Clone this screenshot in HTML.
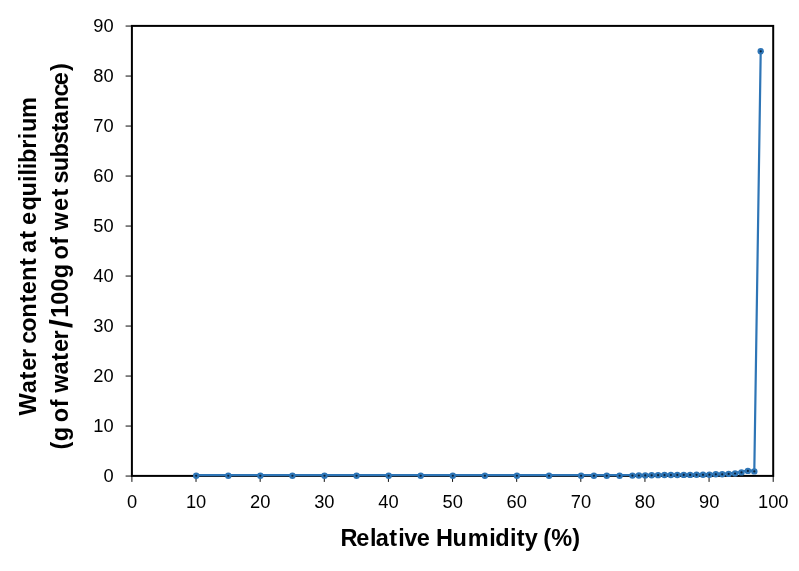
<!DOCTYPE html>
<html><head><meta charset="utf-8"><title>Water content at equilibrium</title>
<style>
html,body{margin:0;padding:0;background:#fff;}
body{width:799px;height:571px;overflow:hidden;}
svg{display:block;}
text{font-family:"Liberation Sans",sans-serif;fill:#000;}
.tk{font-size:18.3px;}
.tt{font-size:23.5px;font-weight:bold;}
</style></head><body>
<svg width="799" height="571" viewBox="0 0 799 571">
<rect width="799" height="571" fill="#fff"/>
<rect x="131.9" y="25.9" width="641.30" height="450.00" fill="none" stroke="#000" stroke-width="2"/>
<line x1="125.6" x2="131.9" y1="476.05" y2="476.05" stroke="#000" stroke-width="0.95"/>
<text class="tk" x="113.7" y="482.40" text-anchor="end">0</text>
<line x1="125.6" x2="131.9" y1="426.05" y2="426.05" stroke="#000" stroke-width="0.95"/>
<text class="tk" x="113.7" y="432.40" text-anchor="end">10</text>
<line x1="125.6" x2="131.9" y1="376.05" y2="376.05" stroke="#000" stroke-width="0.95"/>
<text class="tk" x="113.7" y="382.40" text-anchor="end">20</text>
<line x1="125.6" x2="131.9" y1="326.05" y2="326.05" stroke="#000" stroke-width="0.95"/>
<text class="tk" x="113.7" y="332.40" text-anchor="end">30</text>
<line x1="125.6" x2="131.9" y1="276.05" y2="276.05" stroke="#000" stroke-width="0.95"/>
<text class="tk" x="113.7" y="282.40" text-anchor="end">40</text>
<line x1="125.6" x2="131.9" y1="226.05" y2="226.05" stroke="#000" stroke-width="0.95"/>
<text class="tk" x="113.7" y="232.40" text-anchor="end">50</text>
<line x1="125.6" x2="131.9" y1="176.05" y2="176.05" stroke="#000" stroke-width="0.95"/>
<text class="tk" x="113.7" y="182.40" text-anchor="end">60</text>
<line x1="125.6" x2="131.9" y1="126.05" y2="126.05" stroke="#000" stroke-width="0.95"/>
<text class="tk" x="113.7" y="132.40" text-anchor="end">70</text>
<line x1="125.6" x2="131.9" y1="76.05" y2="76.05" stroke="#000" stroke-width="0.95"/>
<text class="tk" x="113.7" y="82.40" text-anchor="end">80</text>
<line x1="125.6" x2="131.9" y1="26.05" y2="26.05" stroke="#000" stroke-width="0.95"/>
<text class="tk" x="113.7" y="32.40" text-anchor="end">90</text>
<line x1="131.90" x2="131.90" y1="475.9" y2="481.9" stroke="#000" stroke-width="0.95"/>
<text class="tk" x="132.00" y="507.5" text-anchor="middle">0</text>
<line x1="196.03" x2="196.03" y1="475.9" y2="481.9" stroke="#000" stroke-width="0.95"/>
<text class="tk" x="196.13" y="507.5" text-anchor="middle">10</text>
<line x1="260.16" x2="260.16" y1="475.9" y2="481.9" stroke="#000" stroke-width="0.95"/>
<text class="tk" x="260.26" y="507.5" text-anchor="middle">20</text>
<line x1="324.29" x2="324.29" y1="475.9" y2="481.9" stroke="#000" stroke-width="0.95"/>
<text class="tk" x="324.39" y="507.5" text-anchor="middle">30</text>
<line x1="388.42" x2="388.42" y1="475.9" y2="481.9" stroke="#000" stroke-width="0.95"/>
<text class="tk" x="388.52" y="507.5" text-anchor="middle">40</text>
<line x1="452.55" x2="452.55" y1="475.9" y2="481.9" stroke="#000" stroke-width="0.95"/>
<text class="tk" x="452.65" y="507.5" text-anchor="middle">50</text>
<line x1="516.68" x2="516.68" y1="475.9" y2="481.9" stroke="#000" stroke-width="0.95"/>
<text class="tk" x="516.78" y="507.5" text-anchor="middle">60</text>
<line x1="580.81" x2="580.81" y1="475.9" y2="481.9" stroke="#000" stroke-width="0.95"/>
<text class="tk" x="580.91" y="507.5" text-anchor="middle">70</text>
<line x1="644.94" x2="644.94" y1="475.9" y2="481.9" stroke="#000" stroke-width="0.95"/>
<text class="tk" x="645.04" y="507.5" text-anchor="middle">80</text>
<line x1="709.07" x2="709.07" y1="475.9" y2="481.9" stroke="#000" stroke-width="0.95"/>
<text class="tk" x="709.17" y="507.5" text-anchor="middle">90</text>
<line x1="773.20" x2="773.20" y1="475.9" y2="481.9" stroke="#000" stroke-width="0.95"/>
<text class="tk" x="773.30" y="507.5" text-anchor="middle">100</text>
<polyline points="196.20,475.15 228.28,475.15 260.35,475.15 292.43,475.15 324.50,475.15 356.58,475.15 388.65,475.15 420.73,475.15 452.80,475.15 484.88,475.15 516.95,475.15 549.03,475.15 581.10,475.15 593.93,475.15 606.76,475.15 619.59,475.15 632.42,475.00 638.84,474.90 645.25,474.80 651.67,474.70 658.08,474.55 664.50,474.45 670.91,474.40 677.33,474.35 683.74,474.30 690.15,474.30 696.57,474.20 702.99,474.20 709.40,474.10 715.82,473.70 722.23,473.70 728.64,473.30 735.06,472.90 741.48,471.80 747.89,470.30 754.31,470.80 760.72,50.70" fill="none" stroke="#2E75B6" stroke-width="2.2" stroke-linejoin="round" stroke-linecap="round"/>
<circle cx="196.20" cy="475.75" r="3.2" fill="#2E75B6"/><circle cx="196.20" cy="475.75" r="1.1" fill="#0B2239"/>
<circle cx="228.28" cy="475.75" r="3.2" fill="#2E75B6"/><circle cx="228.28" cy="475.75" r="1.1" fill="#0B2239"/>
<circle cx="260.35" cy="475.75" r="3.2" fill="#2E75B6"/><circle cx="260.35" cy="475.75" r="1.1" fill="#0B2239"/>
<circle cx="292.43" cy="475.75" r="3.2" fill="#2E75B6"/><circle cx="292.43" cy="475.75" r="1.1" fill="#0B2239"/>
<circle cx="324.50" cy="475.75" r="3.2" fill="#2E75B6"/><circle cx="324.50" cy="475.75" r="1.1" fill="#0B2239"/>
<circle cx="356.58" cy="475.75" r="3.2" fill="#2E75B6"/><circle cx="356.58" cy="475.75" r="1.1" fill="#0B2239"/>
<circle cx="388.65" cy="475.75" r="3.2" fill="#2E75B6"/><circle cx="388.65" cy="475.75" r="1.1" fill="#0B2239"/>
<circle cx="420.73" cy="475.75" r="3.2" fill="#2E75B6"/><circle cx="420.73" cy="475.75" r="1.1" fill="#0B2239"/>
<circle cx="452.80" cy="475.75" r="3.2" fill="#2E75B6"/><circle cx="452.80" cy="475.75" r="1.1" fill="#0B2239"/>
<circle cx="484.88" cy="475.75" r="3.2" fill="#2E75B6"/><circle cx="484.88" cy="475.75" r="1.1" fill="#0B2239"/>
<circle cx="516.95" cy="475.75" r="3.2" fill="#2E75B6"/><circle cx="516.95" cy="475.75" r="1.1" fill="#0B2239"/>
<circle cx="549.03" cy="475.75" r="3.2" fill="#2E75B6"/><circle cx="549.03" cy="475.75" r="1.1" fill="#0B2239"/>
<circle cx="581.10" cy="475.75" r="3.2" fill="#2E75B6"/><circle cx="581.10" cy="475.75" r="1.1" fill="#0B2239"/>
<circle cx="593.93" cy="475.75" r="3.2" fill="#2E75B6"/><circle cx="593.93" cy="475.75" r="1.1" fill="#0B2239"/>
<circle cx="606.76" cy="475.75" r="3.2" fill="#2E75B6"/><circle cx="606.76" cy="475.75" r="1.1" fill="#0B2239"/>
<circle cx="619.59" cy="475.75" r="3.2" fill="#2E75B6"/><circle cx="619.59" cy="475.75" r="1.1" fill="#0B2239"/>
<circle cx="632.42" cy="475.60" r="3.2" fill="#2E75B6"/><circle cx="632.42" cy="475.60" r="1.1" fill="#0B2239"/>
<circle cx="638.84" cy="475.50" r="3.2" fill="#2E75B6"/><circle cx="638.84" cy="475.50" r="1.1" fill="#0B2239"/>
<circle cx="645.25" cy="475.40" r="3.2" fill="#2E75B6"/><circle cx="645.25" cy="475.40" r="1.1" fill="#0B2239"/>
<circle cx="651.67" cy="475.30" r="3.2" fill="#2E75B6"/><circle cx="651.67" cy="475.30" r="1.1" fill="#0B2239"/>
<circle cx="658.08" cy="475.15" r="3.2" fill="#2E75B6"/><circle cx="658.08" cy="475.15" r="1.1" fill="#0B2239"/>
<circle cx="664.50" cy="475.05" r="3.2" fill="#2E75B6"/><circle cx="664.50" cy="475.05" r="1.1" fill="#0B2239"/>
<circle cx="670.91" cy="475.00" r="3.2" fill="#2E75B6"/><circle cx="670.91" cy="475.00" r="1.1" fill="#0B2239"/>
<circle cx="677.33" cy="474.95" r="3.2" fill="#2E75B6"/><circle cx="677.33" cy="474.95" r="1.1" fill="#0B2239"/>
<circle cx="683.74" cy="474.90" r="3.2" fill="#2E75B6"/><circle cx="683.74" cy="474.90" r="1.1" fill="#0B2239"/>
<circle cx="690.15" cy="474.90" r="3.2" fill="#2E75B6"/><circle cx="690.15" cy="474.90" r="1.1" fill="#0B2239"/>
<circle cx="696.57" cy="474.80" r="3.2" fill="#2E75B6"/><circle cx="696.57" cy="474.80" r="1.1" fill="#0B2239"/>
<circle cx="702.99" cy="474.80" r="3.2" fill="#2E75B6"/><circle cx="702.99" cy="474.80" r="1.1" fill="#0B2239"/>
<circle cx="709.40" cy="474.70" r="3.2" fill="#2E75B6"/><circle cx="709.40" cy="474.70" r="1.1" fill="#0B2239"/>
<circle cx="715.82" cy="474.30" r="3.2" fill="#2E75B6"/><circle cx="715.82" cy="474.30" r="1.1" fill="#0B2239"/>
<circle cx="722.23" cy="474.30" r="3.2" fill="#2E75B6"/><circle cx="722.23" cy="474.30" r="1.1" fill="#0B2239"/>
<circle cx="728.64" cy="473.90" r="3.2" fill="#2E75B6"/><circle cx="728.64" cy="473.90" r="1.1" fill="#0B2239"/>
<circle cx="735.06" cy="473.50" r="3.2" fill="#2E75B6"/><circle cx="735.06" cy="473.50" r="1.1" fill="#0B2239"/>
<circle cx="741.48" cy="472.40" r="3.2" fill="#2E75B6"/><circle cx="741.48" cy="472.40" r="1.1" fill="#0B2239"/>
<circle cx="747.89" cy="470.90" r="3.2" fill="#2E75B6"/><circle cx="747.89" cy="470.90" r="1.1" fill="#0B2239"/>
<circle cx="754.31" cy="471.40" r="3.2" fill="#2E75B6"/><circle cx="754.31" cy="471.40" r="1.1" fill="#0B2239"/>
<circle cx="760.72" cy="51.30" r="3.2" fill="#2E75B6"/><circle cx="760.72" cy="51.30" r="1.1" fill="#0B2239"/>
<text class="tt" transform="translate(340,545.8)" x="0.62 16.31 29.95 35.85 49.29 58.15 64.27 76.81 89.88 96.07 112.62 127.71 149.2 155.22 169.9 176.74 184.84 197.91 203.31 211.37 232.21" y="0">Relative Humidity (%)</text>
<text class="tt" transform="translate(35.6,420) rotate(-90)" x="4.46 26.8 40.59 49.36 62.08 71.23 76.2 88.32 102.33 117.44 125.76 138.98 153.94 161.76 167 181.34 189.16 195.11 209.58 223.47 238.1 244.4 250.7 257.13 271.23 280.85 287.92 301.96" y="0">Water content at equilibrium</text>
<text class="tt" transform="translate(68.1,452) rotate(-90)" x="2.46 10.73 25.08 29.67 44.86 52.69 59.22 77.55 91.34 99.91 112.63 123.95 134.35 147.38 160.53 173.88 188.23 192.52 207.36 215.19 221.42 241.11 255.54 263.36 268.48 280.72 294.58 307.93 320.49 327.9 341.48 355.45 366.76 380.96" y="0 0 0 0 0 0 0 0 0 0 0 3.56 0 0 0 0 0 0 0 0 0 0 0 0 0 0 0 0 0 0 0 0 0 0">(g of water<tspan font-size="32">/</tspan>100g of wet substance)</text>
</svg>
</body></html>
